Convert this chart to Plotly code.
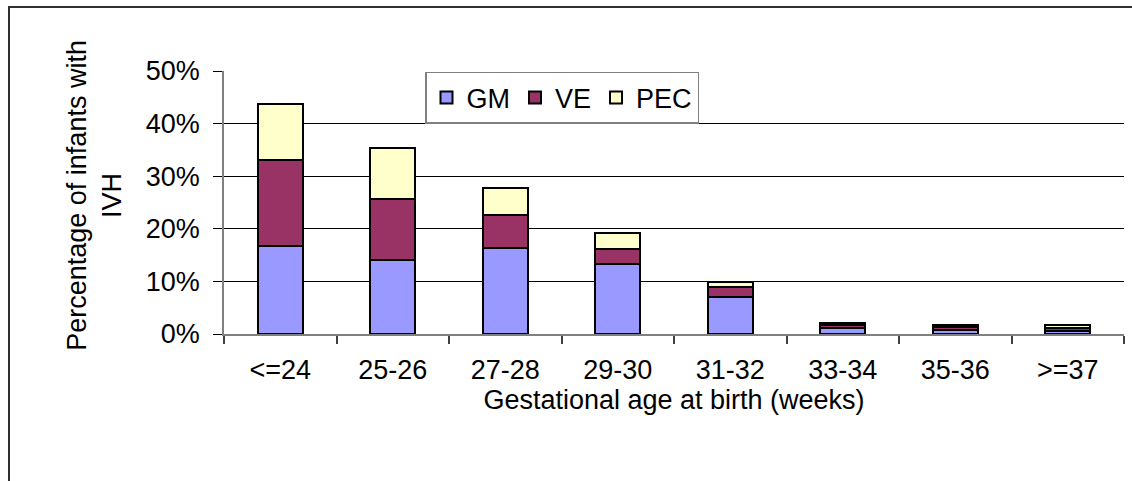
import plotly.graph_objects as go

categories = ["<=24", "25-26", "27-28", "29-30", "31-32", "33-34", "35-36", ">=37"]
gm = [16.8, 14.1, 16.4, 13.4, 7.05, 1.1, 0.7, 0.5]
ve = [16.3, 11.6, 6.2, 2.7, 1.95, 0.7, 0.7, 0.6]
pec = [10.6, 9.7, 5.1, 3.1, 0.8, 0.3, 0.3, 0.6]
series_names = ["GM", "VE", "PEC"]
series_colors = ["#9999FF", "#993366", "#FFFFCC"]

FONT = "Liberation Sans, Arial, sans-serif"
FS = 27

fig = go.Figure()
for name, vals, col in zip(series_names, [gm, ve, pec], series_colors):
    fig.add_trace(go.Bar(
        x=categories, y=vals, name=name,
        marker=dict(color=col, line=dict(color="black", width=2)),
        width=0.4,
    ))

W, H = 1132, 481
L, R, T, B = 224, 8, 71, 146.5
pw = W - L - R
ph = H - T - B

def px_x(x):
    return (x - L) / pw

def px_y(y):
    return (H - B - y) / ph

fig.update_layout(
    width=W, height=H,
    barmode="stack",
    margin=dict(l=L, r=R, t=T, b=B, pad=0),
    paper_bgcolor="white", plot_bgcolor="white",
    font=dict(family=FONT, size=FS, color="black"),
    showlegend=True,
    legend=dict(
        orientation="h",
        x=px_x(425), y=px_y(72), xanchor="left", yanchor="top",
        bordercolor="#808080", borderwidth=1.5, bgcolor="white",
        font=dict(family=FONT, size=FS, color="black"),
        traceorder="normal",
        itemwidth=30,
        tracegroupgap=0,
    ),
    xaxis=dict(
        showline=True, linecolor="#808080", linewidth=1.5,
        ticks="outside", ticklen=8, tickcolor="#404040", tickwidth=1.5,
        tickson="boundaries",
        ticklabelstandoff=11,
        showgrid=False,
        tickfont=dict(family=FONT, size=FS, color="black"),
        title=dict(text="Gestational age at birth (weeks)", standoff=3,
                   font=dict(family=FONT, size=FS, color="black")),
    ),
    yaxis=dict(
        range=[0, 50], dtick=10, ticksuffix="%",
        showline=True, linecolor="#808080", linewidth=1.5,
        ticks="outside", ticklen=9, tickcolor="black", tickwidth=1,
        ticklabelstandoff=8,
        showgrid=True, gridcolor="black", gridwidth=1,
        zeroline=False,
        tickfont=dict(family=FONT, size=FS, color="black"),
    ),
    annotations=[dict(
        text="Percentage of infants with<br>IVH",
        textangle=-90, showarrow=False,
        xref="paper", yref="paper",
        x=px_x(95), y=px_y(196), xanchor="center", yanchor="middle",
        font=dict(family=FONT, size=FS, color="black"),
    )],
    shapes=[dict(
        type="rect", xref="paper", yref="paper",
        x0=px_x(9), x1=px_x(1150), y0=px_y(500), y1=px_y(7),
        line=dict(color="#303030", width=2), fillcolor="rgba(0,0,0,0)",
        layer="below",
    )],
)

fig.write_html(
    "out.html",
    config={"displayModeBar": False},
    post_script="document.body.style.margin='0px';document.body.style.overflow='hidden';",
)
